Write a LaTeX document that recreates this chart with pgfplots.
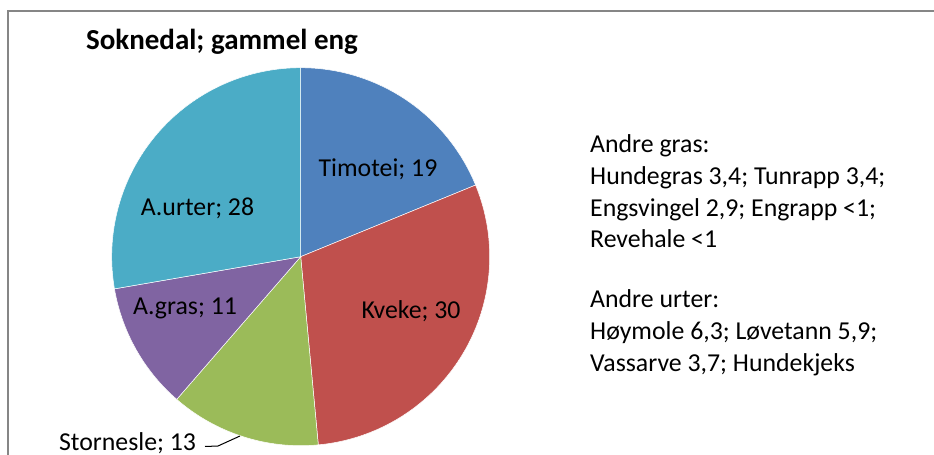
\documentclass[border=0pt]{standalone}
\usepackage{pgfplots}
\pgfplotsset{compat=1.18}
\usepackage{pgfplotstable}
\usepackage{fontspec}
\setmainfont{Carlito}
\definecolor{PBlue}{HTML}{4F81BD}
\definecolor{PRed}{HTML}{C0504D}
\definecolor{PGreen}{HTML}{9BBB59}
\definecolor{PPurple}{HTML}{8064A2}
\definecolor{PAqua}{HTML}{4BACC6}
\definecolor{Frame}{HTML}{868686}

% share of each group, clockwise from 12 o'clock
\pgfplotstableread{
name      value color
Timotei   19    PBlue
Kveke     30    PRed
Stornesle 13    PGreen
A.gras    11    PPurple
A.urter   28    PAqua
}\piedata

\begin{document}
\begin{tikzpicture}
\useasboundingbox (0,0) rectangle (934bp,455bp);
\begin{axis}[at={(0,0)},anchor=south west,scale only axis,
  width=934bp,height=455bp,xmin=0,xmax=934,ymin=0,ymax=455,
  hide axis,clip=false]
  % frame of the chart area (cut at right and bottom)
  \draw[Frame,line width=1.6bp] (axis cs:8,0) -- (axis cs:8,444) -- (axis cs:934,444);
  % wedges
  \def\total{0}
  \pgfplotsforeachungrouped \i in {0,...,4}{%
    \pgfplotstablegetelem{\i}{value}\of\piedata
    \pgfmathsetmacro\total{\total+\pgfplotsretval}}
  \def\astart{90}
  \pgfplotsforeachungrouped \i in {0,...,4}{%
    \pgfplotstablegetelem{\i}{value}\of\piedata \let\v\pgfplotsretval
    \pgfplotstablegetelem{\i}{color}\of\piedata \let\c\pgfplotsretval
    \pgfmathsetmacro\aend{\astart-\v*360/\total}
    \edef\cmd{\noexpand\fill[fill=\c,draw=white,line width=0.5bp]
      (axis cs:300.7,198.3) -- ++(\astart:189bp)
      arc[start angle=\astart,end angle=\aend,radius=189bp] -- cycle;}
    \cmd
    \let\astart\aend}
  % title and labels
  \node[anchor=base,inner sep=0pt,font=\fontsize{29bp}{34bp}\selectfont\bfseries]
    at (axis cs:222,405) {Soknedal; gammel eng};
  \tikzset{lab/.style={anchor=base,inner sep=0pt,font=\fontsize{25.8bp}{32bp}\selectfont}}
  \node[lab] at (axis cs:378,278) {Timotei; 19};
  \node[lab] at (axis cs:411,136) {Kveke; 30};
  \node[lab] at (axis cs:197.5,239) {A.urter; 28};
  \node[lab] at (axis cs:185,140) {A.gras; 11};
  \node[lab] at (axis cs:127.5,4.3) {Stornesle; 13};
  \draw[black,line width=1bp] (axis cs:205,8.5) -- (axis cs:218,9) -- (axis cs:240,19);
  % notes on the right
  \tikzset{note/.style={anchor=base west,inner sep=0pt,font=\fontsize{25.8bp}{32bp}\selectfont}}
  \node[note] at (axis cs:590,302) {Andre gras:};
  \node[note] at (axis cs:590,270) {Hundegras 3,4; Tunrapp 3,4;};
  \node[note] at (axis cs:590,238) {Engsvingel 2,9; Engrapp <1;};
  \node[note] at (axis cs:590,207) {Revehale <1};
  \node[note] at (axis cs:590,147) {Andre urter:};
  \node[note] at (axis cs:590,115) {Høymole 6,3; Løvetann 5,9;};
  \node[note] at (axis cs:590,83) {Vassarve 3,7; Hundekjeks};
\end{axis}
\end{tikzpicture}
\end{document}
